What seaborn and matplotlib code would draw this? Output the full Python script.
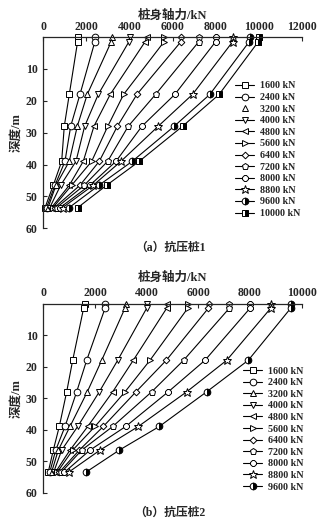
import matplotlib
matplotlib.use("Agg")
import matplotlib.pyplot as plt
import seaborn as sns
import pandas as pd

sns.set_style("ticks")
plt.rcParams['font.family'] = ['Liberation Serif', 'Noto Sans CJK SC']
plt.rcParams['font.weight'] = 'bold'

# ---------------- data ----------------
depths = [0, 1.5, 18, 28, 39, 46.5, 53.5]

loads_a = ["1600 kN", "2400 kN", "3200 kN", "4000 kN", "4800 kN", "5600 kN",
           "6400 kN", "7200 kN", "8000 kN", "8800 kN", "9600 kN", "10000 kN"]
force_a_1600 = [1600, 1590, 1205, 973, 852, 463, 80]
force_a_2400 = [2400, 2390, 1701, 1270, 1005, 542, 150]
force_a_3200 = [3200, 3150, 2039, 1576, 1205, 588, 220]
force_a_4000 = [4000, 3970, 2549, 1918, 1515, 806, 300]
force_a_4800 = [4800, 4720, 3105, 2349, 1854, 1205, 380]
force_a_5600 = [5600, 5600, 3726, 2990, 2243, 1316, 450]
force_a_6400 = [6400, 6380, 4342, 3434, 2595, 1700, 520]
force_a_7200 = [7200, 7210, 5209, 3939, 2984, 1900, 620]
force_a_8000 = [8000, 7990, 6103, 4574, 3369, 2164, 780]
force_a_8800 = [8800, 8780, 6923, 5329, 3601, 2317, 900]
force_a_9600 = [9600, 9550, 7725, 6071, 4124, 2581, 1200]
force_a_10000 = [10000, 9970, 8156, 6459, 4449, 2938, 1600]

loads_b = ["1600 kN", "2400 kN", "3200 kN", "4000 kN", "4800 kN", "5600 kN",
           "6400 kN", "7200 kN", "8000 kN", "8800 kN", "9600 kN"]
force_b_1600 = [1600, 1560, 1137, 905, 619, 387, 190]
force_b_2400 = [2400, 2390, 1679, 1291, 840, 480, 250]
force_b_3200 = [3200, 3160, 2260, 1703, 1033, 580, 320]
force_b_4000 = [4000, 4000, 2879, 2167, 1331, 712, 400]
force_b_4800 = [4800, 4775, 3483, 2686, 1718, 1033, 470]
force_b_5600 = [5600, 5590, 4129, 3164, 2000, 1137, 540]
force_b_6400 = [6400, 6386, 4760, 3587, 2322, 1393, 620]
force_b_7200 = [7200, 7198, 5430, 4195, 2686, 1486, 700]
force_b_8000 = [8000, 7999, 6258, 4837, 3189, 1807, 820]
force_b_8800 = [8800, 8800, 7098, 5550, 3677, 2194, 980]
force_b_9600 = [9600, 9574, 7933, 6324, 4490, 2941, 1650]

xticks_a = [0, 2000, 4000, 6000, 8000, 10000, 12000]
xticks_b = [0, 2000, 4000, 6000, 8000, 10000]
yticks = [10, 20, 30, 40, 50, 60]

series_a = [force_a_1600, force_a_2400, force_a_3200, force_a_4000, force_a_4800, force_a_5600,
            force_a_6400, force_a_7200, force_a_8000, force_a_8800, force_a_9600, force_a_10000]
series_b = [force_b_1600, force_b_2400, force_b_3200, force_b_4000, force_b_4800, force_b_5600,
            force_b_6400, force_b_7200, force_b_8000, force_b_8800, force_b_9600]

# marker styles for each load level
styles = [
    dict(marker='s'), dict(marker='o'), dict(marker='^'), dict(marker='v'),
    dict(marker='<'), dict(marker='>'), dict(marker='D', markersize=3.4),
    dict(marker='p'), dict(marker='8'), dict(marker='*', markersize=6.3),
    dict(marker='o', fillstyle='right', markerfacecolor='black', markerfacecoloralt='white'),
    dict(marker='s', fillstyle='right', markerfacecolor='black', markerfacecoloralt='white'),
]

W, H = 331, 523
fig = plt.figure(figsize=(W / 100, H / 100), dpi=100)


def px_rect(left, right, top, bottom):
    return [left / W, 1 - bottom / H, (right - left) / W, (bottom - top) / H]


ax_a = fig.add_axes(px_rect(43.3, 302, 37, 228.3))
ax_b = fig.add_axes(px_rect(43.3, 301.7, 303.5, 492.7))


def draw(ax, loads, series, xmax, xticks):
    for lab, vals, st in zip(loads, series, styles):
        df = pd.DataFrame({"force": vals, "depth": depths})
        kw = dict(markersize=4.8, markerfacecolor='white', markeredgecolor='black',
                  markeredgewidth=0.7)
        kw.update(st)
        sns.lineplot(data=df, x="force", y="depth", ax=ax, sort=False, estimator=None,
                     color='black', linewidth=0.8, label=lab, clip_on=False, **kw)
    ax.set_xlim(0, xmax)
    ax.set_ylim(60, 0)
    ax.xaxis.tick_top()
    ax.xaxis.set_label_position('top')
    ax.set_xticks(xticks)
    ax.set_yticks(yticks)
    ax.spines['right'].set_visible(False)
    ax.spines['bottom'].set_visible(False)
    for s in ['top', 'left']:
        ax.spines[s].set_linewidth(0.9)
    ax.tick_params(axis='x', direction='in', length=3, width=0.8, pad=3, labelsize=8.5)
    ax.tick_params(axis='y', direction='in', length=3, width=0.8, pad=4, labelsize=8.5)
    for t in ax.get_xticklabels() + ax.get_yticklabels():
        t.set_fontweight('bold')
    ax.set_xlabel("桩身轴力/kN", fontsize=9, fontweight='bold')
    ax.set_ylabel("深度/m", fontsize=9, fontweight='bold')
    ax.yaxis.set_label_coords(-0.08, 0.5)


draw(ax_a, loads_a, series_a, 12000, xticks_a)
draw(ax_b, loads_b, series_b, 10000, xticks_b)
ax_a.xaxis.set_label_coords(0.5, 1.095)
ax_b.xaxis.set_label_coords(0.5, 1.12)

# legends
for ax, x0, y0, drop_line in [(ax_a, 235, 81.5, "3200 kN"), (ax_b, 243.3, 366.5, None)]:
    handles, labels = ax.get_legend_handles_labels()
    if ax.get_legend():
        ax.get_legend().remove()
    leg = ax.legend(handles, labels, loc='upper left', bbox_to_anchor=(x0 / W, 1 - y0 / H),
                    bbox_transform=fig.transFigure, frameon=False, fontsize=7.2,
                    handlelength=1.9, handletextpad=0.55, labelspacing=0.26,
                    borderpad=0, borderaxespad=0)
    for h, t in zip(leg.legend_handles, leg.get_texts()):
        t.set_fontweight('bold')
        if drop_line and t.get_text() == drop_line:
            h.set_linestyle('none')

fig.text(170 / W, 1 - 247.7 / H, "（a）抗压桩1", ha='center', va='center',
         fontsize=8.5, fontweight='bold')
fig.text(170 / W, 1 - 513.3 / H, "（b）抗压桩2", ha='center', va='center',
         fontsize=8.5, fontweight='bold')

fig.savefig("out.png", dpi=100)
